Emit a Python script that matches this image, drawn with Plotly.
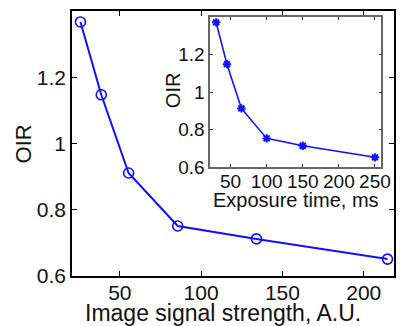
import plotly.graph_objects as go

# Main plot data
signal_strength = [25.8, 38.6, 55.4, 85.6, 134, 214.6]
oir_main = [1.367, 1.147, 0.911, 0.751, 0.712, 0.651]
# Inset data
exposure_ms = [30, 45, 65, 100, 150, 250]
oir_inset = [1.372, 1.149, 0.913, 0.753, 0.714, 0.652]

main_xticks = [50, 100, 150, 200]
main_yticks = [0.6, 0.8, 1, 1.2]
inset_xticks = [50, 100, 150, 200, 250]
inset_yticks = [0.6, 0.8, 1, 1.2]

FONT = "Liberation Sans, Arial, sans-serif"
TXT = "#111111"
BLUE = "#1010ff"

fig = go.Figure()
fig.add_trace(go.Scatter(
    x=signal_strength, y=oir_main, mode="lines+markers",
    line=dict(color=BLUE, width=2),
    marker=dict(symbol="circle-open", size=10, color=BLUE, line=dict(width=1.6, color=BLUE)),
    xaxis="x", yaxis="y", showlegend=False, hoverinfo="skip"))
fig.add_trace(go.Scatter(
    x=exposure_ms, y=oir_inset, mode="lines+markers",
    line=dict(color=BLUE, width=1.6),
    marker=dict(symbol="asterisk-open", size=7, color=BLUE, line=dict(width=2, color=BLUE)),
    xaxis="x2", yaxis="y2", showlegend=False, hoverinfo="skip"))

common = dict(showgrid=False, zeroline=False, ticks="inside", mirror="ticks", showline=True)

fig.update_layout(
    width=404, height=326,
    margin=dict(l=72, r=1, t=11, b=50),
    paper_bgcolor="white", plot_bgcolor="white",
    font=dict(family=FONT, color=TXT),
    xaxis=dict(domain=[0, 1], range=[20.6, 218.6], tickvals=main_xticks,
               ticktext=[str(v) for v in main_xticks], ticklen=5, tickcolor="black",
               linecolor="black", linewidth=1.5, ticklabelstandoff=-3,
               tickfont=dict(size=21, family=FONT, color=TXT), **common),
    yaxis=dict(domain=[0, 1], range=[0.6, 1.4], tickvals=main_yticks,
               ticktext=["0.6", "0.8", "1", "1.2"], ticklen=5, tickcolor="black",
               linecolor="black", linewidth=1.5,
               tickfont=dict(size=21, family=FONT, color=TXT), **common),
    xaxis2=dict(domain=[0.429, 0.961], range=[21.7, 259], anchor="y2", tickvals=inset_xticks,
                ticktext=[str(v) for v in inset_xticks], ticklen=3, tickcolor="#333333",
                linecolor="#666666", linewidth=1.5, ticklabelstandoff=-4,
                tickfont=dict(size=19, family=FONT, color=TXT), **common),
    yaxis2=dict(domain=[0.411, 0.977], range=[0.6, 1.4], anchor="x2", tickvals=inset_yticks,
                ticktext=["0.6", "0.8", "1", "1.2"], ticklen=3, tickcolor="#333333",
                linecolor="#666666", linewidth=1.5,
                tickfont=dict(size=19, family=FONT, color=TXT), **common),
    annotations=[
        dict(text="Image signal strength, A.U.", xref="paper", yref="paper",
             x=0.468, y=(276 - 313) / 265, xanchor="center", yanchor="middle", showarrow=False,
             font=dict(size=23, family=FONT, color=TXT)),
        dict(text="OIR", xref="paper", yref="paper", x=-0.151, y=0.498,
             xanchor="center", yanchor="middle", textangle=-90, showarrow=False,
             font=dict(size=22, family=FONT, color=TXT)),
        dict(text="Exposure time, ms", xref="paper", yref="paper",
             x=(302.5 - 72) / 331, y=(276 - 200) / 265, xanchor="center", yanchor="middle",
             showarrow=False, font=dict(size=20, family=FONT, color=TXT)),
        dict(text="OIR", xref="paper", yref="paper", x=(176 - 72) / 331, y=(276 - 90) / 265,
             xanchor="center", yanchor="middle", textangle=-90, showarrow=False,
             font=dict(size=20, family=FONT, color=TXT)),
    ],
)

fig.write_html("out.html")
